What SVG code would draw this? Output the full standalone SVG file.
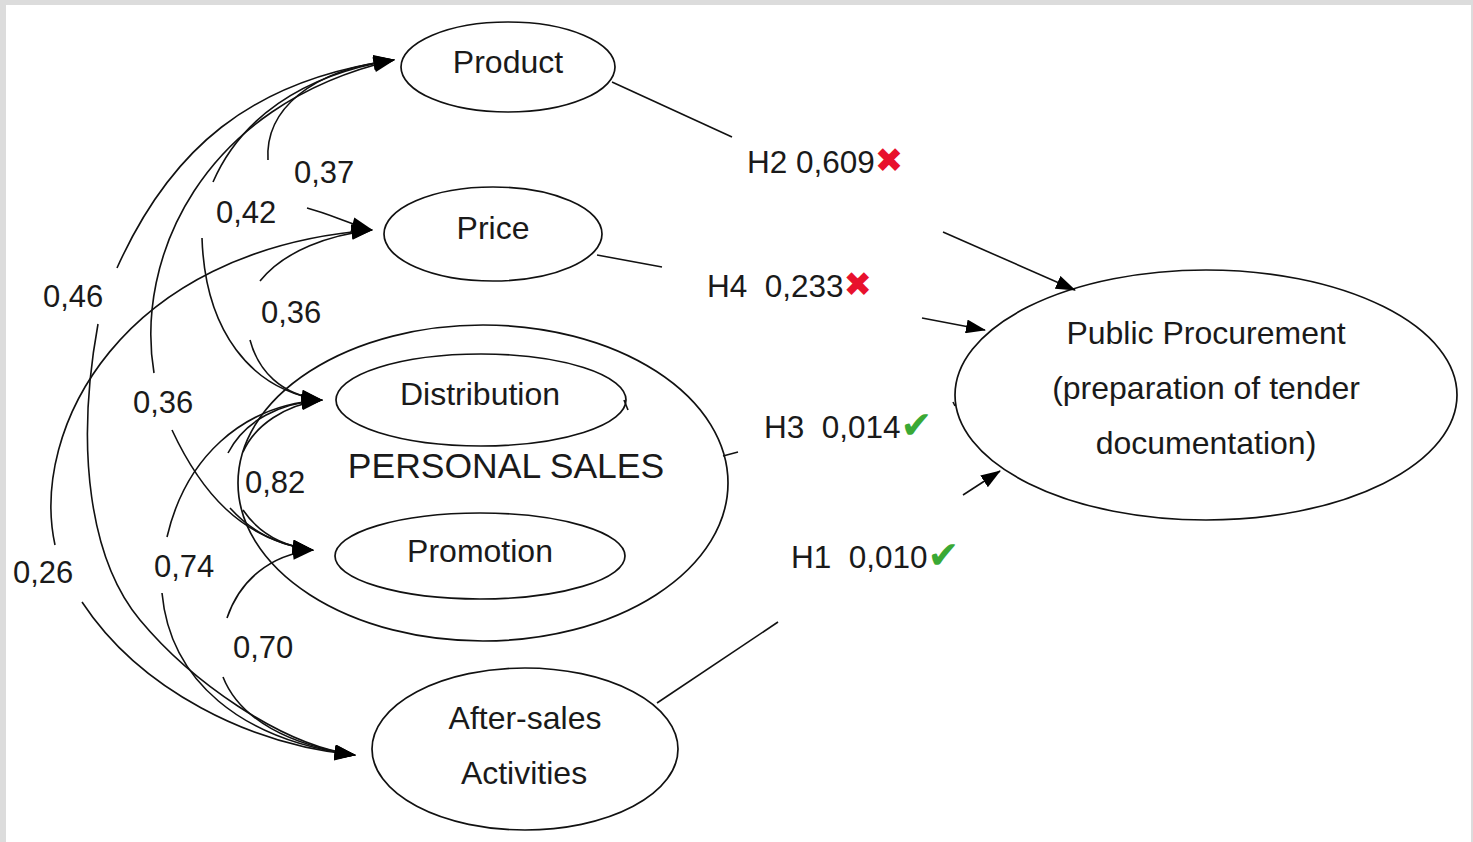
<svg xmlns="http://www.w3.org/2000/svg" width="1473" height="842" viewBox="0 0 1473 842">
<style>
.n{fill:none;stroke:#111;stroke-width:1.7}
.c{fill:none;stroke:#111;stroke-width:1.6}
.t{font-family:"Liberation Sans",Arial,sans-serif;font-size:31px;fill:#1a1a1a}
.m{text-anchor:middle}
.x{font-family:"DejaVu Sans",sans-serif;fill:#e8112d}
.v{font-family:"DejaVu Sans",sans-serif;fill:#3aa935}
</style>
<defs>
<marker id="ah" viewBox="0 0 20 14" refX="19" refY="7" markerWidth="22" markerHeight="15" markerUnits="userSpaceOnUse" orient="auto">
<path d="M0,0 L20,7 L0,14 z" fill="#000"/>
</marker>
<marker id="as" viewBox="0 0 20 14" refX="19" refY="7" markerWidth="20" markerHeight="14" markerUnits="userSpaceOnUse" orient="auto">
<path d="M0,0 L20,7 L0,14 z" fill="#000"/>
</marker>
</defs>
<rect x="0" y="0" width="1473" height="842" fill="#dcdcdc"/>
<rect x="6" y="5" width="1465" height="837" fill="#fff"/>

<g id="product"><ellipse class="n" cx="508" cy="67" rx="107" ry="45"/><text class="t m" x="508" y="73" style="font-size:32px">Product</text></g>
<g id="price"><ellipse class="n" cx="493" cy="234" rx="109" ry="47"/><text class="t m" x="493" y="239" style="font-size:32px">Price</text></g>
<g id="personal-sales"><ellipse class="n" cx="483" cy="483" rx="245" ry="158"/><text class="t m" x="506" y="478" style="font-size:35.5px">PERSONAL SALES</text></g>
<g id="distribution"><ellipse class="n" cx="481" cy="400" rx="145" ry="46"/><text class="t m" x="480" y="405" style="font-size:32px">Distribution</text></g>
<g id="promotion"><ellipse class="n" cx="480" cy="556" rx="145" ry="43"/><text class="t m" x="480" y="562" style="font-size:32px">Promotion</text></g>
<g id="after-sales"><ellipse class="n" cx="525" cy="749" rx="153" ry="81"/><text class="t m" x="525" y="729" style="font-size:32px">After-sales</text><text class="t m" x="524" y="784" style="font-size:32px">Activities</text></g>
<g id="public-procurement"><ellipse class="n" cx="1206" cy="395" rx="251" ry="125"/><text class="t m" x="1206" y="344" style="font-size:32px">Public Procurement</text><text class="t m" x="1206" y="399" style="font-size:32px">(preparation of tender</text><text class="t m" x="1206" y="454" style="font-size:32px">documentation)</text></g>

<g id="connectors">
<path class="c" d="M612,82 L732,137"/>
<path class="c" d="M943,232 L1075,290" marker-end="url(#as)"/>
<path class="c" d="M597,255 L662,267"/>
<path class="c" d="M922,318 L985,330" marker-end="url(#as)"/>
<path class="c" d="M723,456 L738,452"/>
<path class="c" d="M624,400 L628,410"/>
<path class="c" d="M953,402 L955,406"/>
<path class="c" d="M657,703 L778,622"/>
<path class="c" d="M963,495 L1000,471" marker-end="url(#as)"/>

<path class="c" d="M268,160 C265,110 310,70 394,60" marker-end="url(#ah)"/>
<path class="c" d="M307,208 C330,214 350,224 372,230" marker-end="url(#ah)"/>
<path class="c" d="M213,182 C240,120 300,75 394,60" marker-end="url(#ah)"/>
<path class="c" d="M202,238 C205,330 250,390 322,400" marker-end="url(#ah)"/>
<path class="c" d="M117,268 C170,150 250,80 394,60" marker-end="url(#ah)"/>
<path class="c" d="M98,324 C75,450 90,560 140,620 S280,745 355,755" marker-end="url(#ah)"/>
<path class="c" d="M154,373 C135,260 200,105 394,60" marker-end="url(#ah)"/>
<path class="c" d="M172,430 C200,490 240,540 313,550" marker-end="url(#ah)"/>
<path class="c" d="M260,281 C285,250 330,235 372,230" marker-end="url(#ah)"/>
<path class="c" d="M250,340 C258,370 280,395 322,400" marker-end="url(#ah)"/>
<path class="c" d="M55,545 C30,430 120,250 372,230" marker-end="url(#ah)"/>
<path class="c" d="M82,602 C140,690 250,745 355,755" marker-end="url(#ah)"/>
<path class="c" d="M228,453 C245,420 280,403 322,400" marker-end="url(#ah)"/>
<path class="c" d="M243,452 C255,425 285,405 322,400" marker-end="url(#ah)"/>
<path class="c" d="M230,508 C250,530 275,545 313,550" marker-end="url(#ah)"/>
<path class="c" d="M243,510 C258,532 280,546 313,550" marker-end="url(#ah)"/>
<path class="c" d="M167,537 C185,460 240,405 322,400" marker-end="url(#ah)"/>
<path class="c" d="M162,593 C170,680 240,740 355,755" marker-end="url(#ah)"/>
<path class="c" d="M227,618 C240,580 270,555 313,550" marker-end="url(#ah)"/>
<path class="c" d="M223,677 C240,720 290,745 355,755" marker-end="url(#ah)"/>
</g>

<g id="labels">
<text class="t" x="294" y="183">0,37</text>
<text class="t" x="216" y="223">0,42</text>
<text class="t" x="43" y="307">0,46</text>
<text class="t" x="261" y="323">0,36</text>
<text class="t" x="133" y="413">0,36</text>
<text class="t" x="245" y="493">0,82</text>
<text class="t" x="13" y="583">0,26</text>
<text class="t" x="154" y="577">0,74</text>
<text class="t" x="233" y="658">0,70</text>
<text class="t" x="747" y="173" style="font-size:31.5px">H2 0,609<tspan class="x" font-size="34" dy="-1">✖</tspan></text>
<text class="t" x="707" y="297" xml:space="preserve" style="font-size:31.5px">H4  0,233<tspan class="x" font-size="34" dy="-1">✖</tspan></text>
<text class="t" x="764" y="438" xml:space="preserve" style="font-size:31.5px">H3  0,014<tspan class="v" font-size="38">✔</tspan></text>
<text class="t" x="791" y="568" xml:space="preserve" style="font-size:31.5px">H1  0,010<tspan class="v" font-size="38">✔</tspan></text>
</g>
</svg>
